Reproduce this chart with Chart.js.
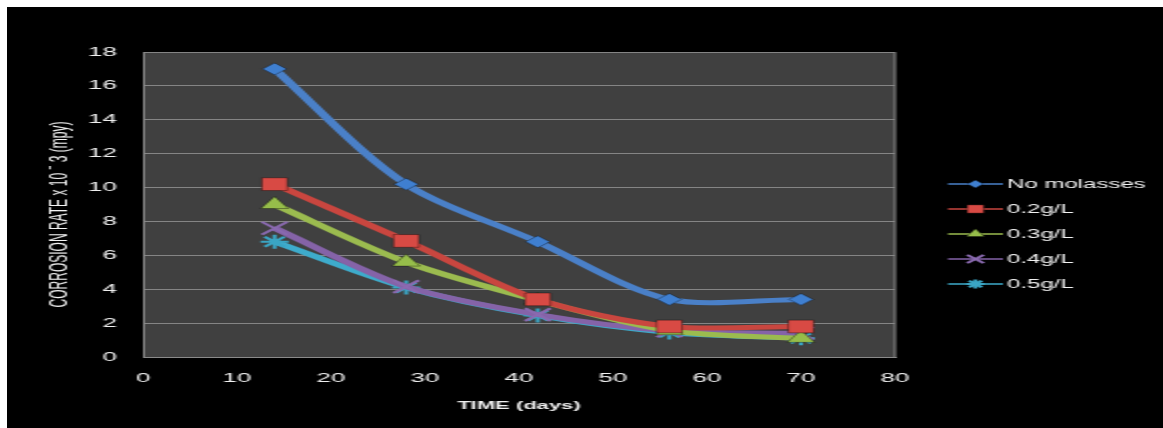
<!DOCTYPE html>
<html>
<head>
<meta charset="utf-8">
<title>Corrosion rate vs time</title>
<script src="https://cdn.jsdelivr.net/npm/chart.js@4.4.1/dist/chart.umd.min.js"></script>
<style>
  html, body { margin: 0; padding: 0; background: #ffffff; }
  #frame { position: absolute; left: 7px; top: 7px; width: 1156px; height: 421px; background: #000000; overflow: hidden; }
</style>
</head>
<body>
<div id="frame"><canvas id="c" width="578" height="421" style="display:block;width:1156px;height:421px"></canvas></div>
<script>
// Exposure time (days) and corrosion rate (x10^-3 mpy) for each molasses dose
const days = [14, 28, 42, 56, 70];
const noMolasses = [17.0, 10.2, 6.8, 3.4, 3.4];
const dose02 = [10.2, 6.85, 3.4, 1.8, 1.8];
const dose03 = [9.0, 5.6, 3.35, 1.55, 1.1];
const dose04 = [7.6, 4.15, 2.5, 1.55, 1.4];
const dose05 = [6.8, 4.1, 2.45, 1.45, 1.1];
const seriesNames = ['No molasses', '0.2g/L', '0.3g/L', '0.4g/L', '0.5g/L'];
const xTickRange = { min: 0, max: 80, step: 10 };
const yTickRange = { min: 0, max: 18, step: 2 };

const seriesValues = [noMolasses, dose02, dose03, dose04, dose05];
const lineColors = ['#4a80c8', '#c9463f', '#9bbb4f', '#8563a8', '#3eabcb'];
const markerFill = ['#3f7fd0', '#d84a44', '#96bd4a', '#8a6ab0', '#3aa5c4'];
const markerStyles = ['rectRot', 'rect', 'triangle', 'crossRot', 'star'];
const markerRadii = [6, 9, 8, 9, 7];

const datasets = seriesValues.map((vals, i) => ({
  label: seriesNames[i],
  data: vals.map((v, k) => ({ x: days[k], y: v })),
  borderColor: lineColors[i],
  borderWidth: 5,
  tension: 0.3,
  fill: false,
  pointStyle: markerStyles[i],
  pointRadius: markerRadii[i],
  pointBackgroundColor: markerFill[i],
  pointBorderColor: (i >= 3) ? markerFill[i] : 'rgba(0,0,0,0.35)',
  pointBorderWidth: (i >= 3) ? 2 : 1
}));

// dark plot background and frame around the plotting area
const plotFrame = {
  id: 'plotFrame',
  beforeDraw(chart) {
    const { ctx, chartArea: a } = chart;
    ctx.save();
    ctx.fillStyle = '#404040';
    ctx.fillRect(a.left, a.top, a.right - a.left, a.bottom - a.top);
    ctx.restore();
  },
  afterDatasetsDraw(chart) {
    const { ctx, chartArea: a } = chart;
    ctx.save();
    ctx.strokeStyle = '#8a8a8a';
    ctx.lineWidth = 1;
    ctx.beginPath();
    ctx.moveTo(a.right, a.top);
    ctx.lineTo(a.right, a.bottom);
    ctx.stroke();
    ctx.restore();
  }
};

// legend: a short line with the series marker, then the series name
const lineLegend = {
  id: 'lineLegend',
  afterDraw(chart) {
    const { ctx, chartArea: a } = chart;
    const x0 = a.right + 26.5, x1 = a.right + 54, tx = a.right + 56;
    const y0 = 177, gap = 25;
    ctx.save();
    chart.data.datasets.forEach((ds, i) => {
      const y = y0 + i * gap;
      ctx.strokeStyle = ds.borderColor;
      ctx.lineWidth = 1.5;
      ctx.beginPath();
      ctx.moveTo(x0, y);
      ctx.lineTo(x1, y);
      ctx.stroke();
      ctx.fillStyle = ds.pointBackgroundColor;
      ctx.strokeStyle = ds.pointBorderColor;
      ctx.lineWidth = ds.pointBorderWidth;
      Chart.helpers.drawPoint(ctx, { pointStyle: ds.pointStyle, radius: ds.pointRadius * 0.65, rotation: 0, borderWidth: ds.pointBorderWidth }, (x0 + x1) / 2, y);
      ctx.fillStyle = '#f2f2f2';
      ctx.font = '12px "Liberation Sans", Arial, sans-serif';
      ctx.textAlign = 'left';
      ctx.textBaseline = 'middle';
      ctx.fillText(ds.label, tx, y + 0.5);
    });
    ctx.restore();
  }
};

new Chart(document.getElementById('c'), {
  type: 'line',
  data: { datasets },
  plugins: [plotFrame, lineLegend],
  options: {
    responsive: false,
    animation: false,
    events: [],
    layout: { padding: { left: 0, top: 45, right: 134, bottom: 0 } },
    plugins: { legend: { display: false }, tooltip: { enabled: false } },
    scales: {
      x: {
        type: 'linear',
        min: xTickRange.min,
        max: xTickRange.max,
        afterFit(s) { s.height = 71; },
        grid: { display: false, drawTicks: false },
        border: { display: true, color: '#8a8a8a', width: 1 },
        ticks: {
          stepSize: xTickRange.step,
          padding: 14,
          color: '#f0f0f0',
          maxRotation: 0,
          font: { family: '"Liberation Sans", Arial, sans-serif', size: 13 }
        },
        title: {
          display: true,
          text: 'TIME (days)',
          color: '#f0f0f0',
          padding: { top: 0, bottom: 15 },
          font: { family: '"Liberation Sans", Arial, sans-serif', size: 11, weight: 'bold' }
        }
      },
      y: {
        min: yTickRange.min,
        max: yTickRange.max,
        afterFit(s) { s.width = 68; },
        grid: { color: '#858585', lineWidth: 1, drawTicks: false },
        border: { display: true, color: '#8a8a8a', width: 1 },
        ticks: {
          stepSize: yTickRange.step,
          padding: 13,
          color: '#f0f0f0',
          font: { family: '"Liberation Sans", Arial, sans-serif', size: 13 }
        },
        title: {
          display: true,
          text: 'CORROSION RATE x 10 \u02C9 3 (mpy)      ',
          color: '#f4f4f4',
          padding: { top: 19, bottom: 0 },
          font: { family: '"Liberation Sans", Arial, sans-serif', size: 12 }
        }
      }
    }
  }
});
</script>
</body>
</html>
